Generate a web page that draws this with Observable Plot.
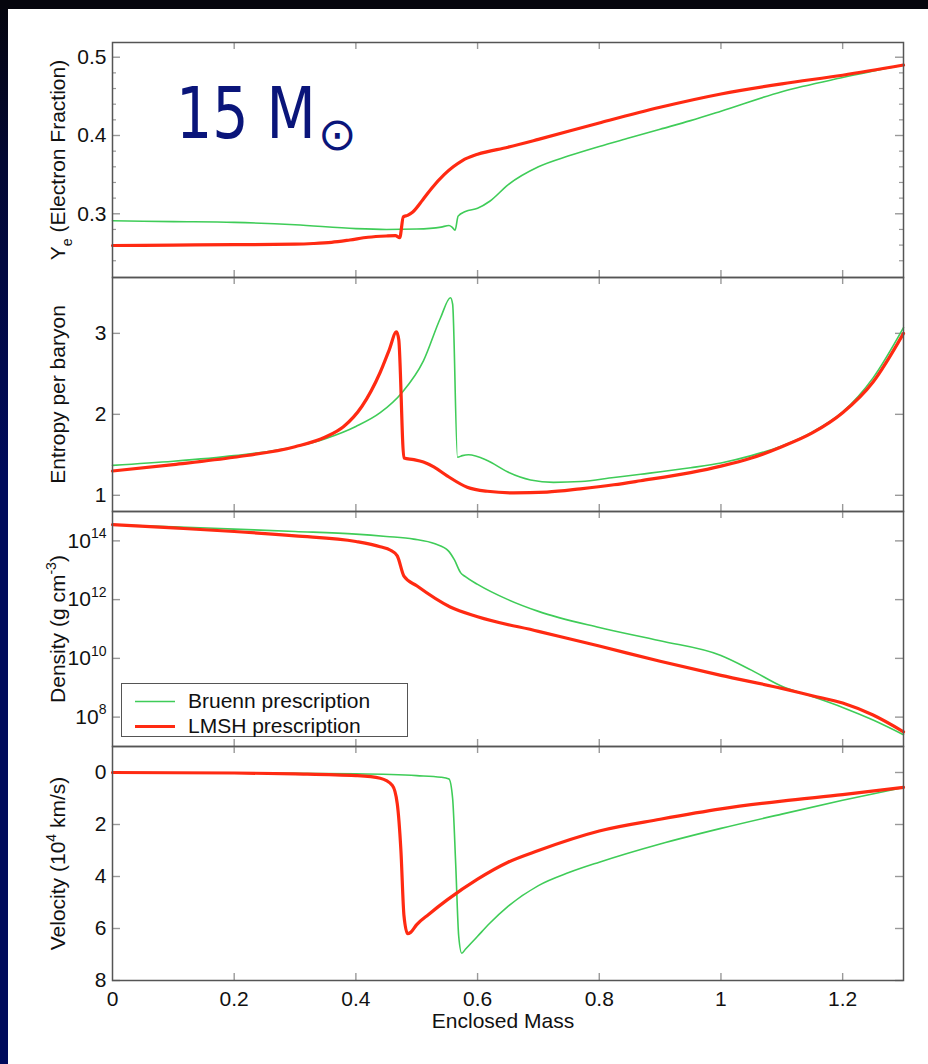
<!DOCTYPE html>
<html><head><meta charset="utf-8">
<script src="https://cdn.jsdelivr.net/npm/d3@7"></script>
<script src="https://cdn.jsdelivr.net/npm/@observablehq/plot@0.6"></script>
<style>
html,body{margin:0;padding:0;background:#fff;}
#page{position:relative;width:928px;height:1064px;overflow:hidden;background:#fff;font-family:"Liberation Sans",Arial,sans-serif;}
#topbar{position:absolute;left:0;top:0;width:928px;height:9px;background:#05050d;}
#leftbar{position:absolute;left:0;top:0;width:8px;height:1064px;background:linear-gradient(#05050d 0%,#030833 15%,#000b5c 45%,#000b5c 100%);}
.panel{position:absolute;left:0;}
#legend{position:absolute;left:121px;top:683px;width:287px;height:54px;border:1.5px solid #555;background:#fff;box-sizing:border-box;}
.lg-row{position:absolute;left:0;height:24px;width:100%;}
.lg-line{position:absolute;left:13px;top:11px;width:40px;}
.lg-text{position:absolute;left:66px;top:0;font-size:21px;line-height:24px;color:#111;white-space:nowrap;}
</style></head><body>
<div id="page"><div id="leftbar"></div><div id="topbar"></div></div>
<script>
// ---------- data ----------
const massTicks = [0, 0.2, 0.4, 0.6, 0.8, 1, 1.2];
const yeTicks = [0.3, 0.4, 0.5];
const yeMinorTicks = [0.24, 0.26, 0.28, 0.32, 0.34, 0.36, 0.38, 0.42, 0.44, 0.46, 0.48];
const entropyTicks = [1, 2, 3];
const densityTicks = [1e8, 1e10, 1e12, 1e14];
const velocityTicks = [0, 2, 4, 6, 8];

const seriesNames = ["Bruenn prescription", "LMSH prescription"];
const seriesColors = ["#3fcc58", "#ff2a12"];
const seriesWidths = [1.6, 3.2];

const titleText = "15 M";
const titleSymbol = "\u2299";
const xLabel = "Enclosed Mass";
const yLabels = ["Y_{e} (Electron Fraction)", "Entropy per baryon", "Density (g cm^{-3})", "Velocity (10^{4} km/s)"];

// Electron fraction
const yeBruennMass = [0, 0.1, 0.2, 0.3, 0.4, 0.45, 0.5, 0.54, 0.553, 0.558, 0.563, 0.568, 0.58, 0.6, 0.62, 0.65, 0.7, 0.75, 0.8, 0.85, 0.9, 0.95, 1.0, 1.1, 1.2, 1.3];
const yeBruenn     = [0.291, 0.290, 0.289, 0.286, 0.281, 0.280, 0.2805, 0.283, 0.285, 0.283, 0.279, 0.297, 0.303, 0.307, 0.316, 0.337, 0.36, 0.374, 0.386, 0.397, 0.408, 0.419, 0.431, 0.456, 0.474, 0.49];
const yeLmshMass = [0, 0.1, 0.2, 0.3, 0.33, 0.36, 0.39, 0.42, 0.45, 0.465, 0.472, 0.478, 0.485, 0.493, 0.51, 0.525, 0.545, 0.56, 0.575, 0.6, 0.65, 0.7, 0.8, 0.9, 1.0, 1.1, 1.2, 1.3];
const yeLmsh     = [0.2595, 0.260, 0.2605, 0.2612, 0.262, 0.2635, 0.2665, 0.270, 0.2716, 0.272, 0.2695, 0.296, 0.298, 0.302, 0.318, 0.333, 0.35, 0.36, 0.368, 0.376, 0.385, 0.395, 0.416, 0.436, 0.453, 0.466, 0.477, 0.49];

// Entropy per baryon
const entBruennMass = [0, 0.1, 0.2, 0.3, 0.35, 0.4, 0.44, 0.476, 0.511, 0.539, 0.5555, 0.559, 0.567, 0.575, 0.585, 0.616, 0.649, 0.687, 0.725, 0.77, 0.824, 0.868, 0.95, 1.0, 1.05, 1.1, 1.15, 1.2, 1.25, 1.3];
const entBruenn     = [1.37, 1.42, 1.49, 1.6, 1.7, 1.85, 2.02, 2.27, 2.66, 3.19, 3.44, 3.36, 1.47, 1.49, 1.5, 1.43, 1.29, 1.19, 1.16, 1.17, 1.22, 1.26, 1.34, 1.4, 1.49, 1.61, 1.78, 2.03, 2.45, 3.07];
const entLmshMass = [0, 0.1, 0.2, 0.3, 0.35, 0.38, 0.41, 0.44, 0.455, 0.4667, 0.4705, 0.479, 0.495, 0.511, 0.528, 0.55, 0.583, 0.616, 0.659, 0.714, 0.769, 0.824, 0.868, 0.95, 1.0, 1.05, 1.1, 1.15, 1.2, 1.25, 1.3];
const entLmsh     = [1.30, 1.38, 1.47, 1.6, 1.72, 1.85, 2.1, 2.52, 2.8, 3.02, 2.92, 1.46, 1.44, 1.41, 1.35, 1.24, 1.10, 1.05, 1.03, 1.04, 1.08, 1.13, 1.18, 1.28, 1.36, 1.46, 1.6, 1.77, 2.02, 2.4, 3.0];

// Density, log10 of g cm^-3
const denBruennMass = [0, 0.1, 0.2, 0.3, 0.4, 0.45, 0.495, 0.53, 0.552, 0.562, 0.572, 0.58, 0.6, 0.65, 0.7, 0.8, 0.9, 1.0, 1.05, 1.1, 1.15, 1.2, 1.25, 1.3];
const denBruennLog  = [14.55, 14.48, 14.4, 14.32, 14.23, 14.15, 14.06, 13.9, 13.66, 13.35, 12.92, 12.78, 12.52, 12.0, 11.6, 11.05, 10.6, 10.1, 9.6, 9.05, 8.7, 8.33, 7.9, 7.4];
const denLmshMass = [0, 0.1, 0.2, 0.3, 0.4, 0.44, 0.457, 0.468, 0.479, 0.5, 0.555, 0.6, 0.7, 0.8, 0.9, 1.0, 1.1, 1.15, 1.2, 1.25, 1.3];
const denLmshLog  = [14.55, 14.44, 14.32, 14.17, 13.98, 13.8, 13.68, 13.49, 12.8, 12.47, 11.75, 11.42, 10.92, 10.42, 9.9, 9.42, 8.98, 8.73, 8.48, 8.07, 7.5];

// Velocity, 10^4 km/s (infall, drawn downward)
const velBruennMass = [0, 0.2, 0.3, 0.4, 0.5, 0.54, 0.553, 0.559, 0.564, 0.569, 0.574, 0.58, 0.59, 0.6, 0.62, 0.65, 0.7, 0.75, 0.8, 0.9, 1.0, 1.1, 1.2, 1.3];
const velBruenn     = [0, 0.02, 0.03, 0.05, 0.12, 0.18, 0.25, 1.0, 3.5, 6.3, 6.95, 6.8, 6.55, 6.3, 5.8, 5.15, 4.35, 3.85, 3.45, 2.75, 2.15, 1.6, 1.07, 0.58];
const velLmshMass = [0, 0.2, 0.3, 0.4, 0.44, 0.46, 0.468, 0.474, 0.479, 0.485, 0.49, 0.5, 0.52, 0.55, 0.6, 0.65, 0.7, 0.8, 0.9, 1.0, 1.1, 1.2, 1.3];
const velLmsh     = [0, 0.02, 0.05, 0.12, 0.22, 0.5, 1.2, 3.0, 5.5, 6.2, 6.15, 5.85, 5.45, 4.9, 4.1, 3.45, 3.0, 2.25, 1.8, 1.4, 1.1, 0.85, 0.57];

// ---------- layout ----------
const W = 928, ML = 112, MR = 25, FW = W - ML - MR;
const FONT = "Liberation Sans, Arial, Helvetica, sans-serif";
const FS = 21;
const page = document.getElementById("page");
const pts = (ms, vs, f = v => v) => ms.map((m, i) => ({m, v: f(vs[i])}));
const fmtMass = d => String(+d.toFixed(1));

function rich(svg) {
  d3.select(svg).selectAll("text").each(function () {
    const t = this.textContent;
    if (!/[\^_]\{/.test(t)) return;
    const parts = t.split(/(\^\{[^}]*\}|_\{[^}]*\})/).filter(s => s.length);
    const el = d3.select(this);
    el.text(null);
    let shift = 0;
    for (const p of parts) {
      const m = p.match(/^([\^_])\{([^}]*)\}$/);
      const ts = el.append("tspan");
      if (m) {
        const target = m[1] === "^" ? -0.45 * FS : 0.3 * FS;
        ts.attr("dy", target - shift).attr("font-size", Math.round(FS * 0.68)).text(m[2]);
        shift = target;
      } else {
        if (shift) ts.attr("dy", -shift);
        ts.text(p);
        shift = 0;
      }
    }
  });
}

function panel({top, h, mb = 10, y, ticks, minor = [], fmt, label, lines, xAxis = false}) {
  const mt = 10;
  const inner = massTicks.filter(d => d > 0 && d < 1.3);
  const marks = [
    Plot.ruleX(inner, {x: d => d, insetBottom: h - 7, stroke: "#999", strokeWidth: 1.4}),
    Plot.ruleX(inner, {x: d => d, insetTop: h - 7, stroke: "#999", strokeWidth: 1.4}),
    Plot.ruleY(ticks, {y: d => d, insetRight: FW - 8, stroke: "#999", strokeWidth: 1.4}),
    Plot.ruleY(ticks, {y: d => d, insetLeft: FW - 8, stroke: "#999", strokeWidth: 1.4}),
    Plot.ruleY(minor, {y: d => d, insetRight: FW - 4, stroke: "#999", strokeWidth: 1.2}),
    Plot.ruleY(minor, {y: d => d, insetLeft: FW - 4, stroke: "#999", strokeWidth: 1.2}),
    Plot.axisY({ticks, tickSize: 0, tickPadding: 6, tickFormat: fmt, label: null, fontSize: FS}),
    ...lines.map((data, i) => Plot.line(data, {x: "m", y: "v", stroke: seriesColors[i], strokeWidth: seriesWidths[i], curve: "monotone-x", strokeLinejoin: "round", strokeLinecap: "round"})),
    Plot.frame({stroke: "#555", strokeWidth: 1.5}),
    Plot.text([label], {text: d => d, frameAnchor: "left", dx: -54, rotate: -90, textAnchor: "middle", lineAnchor: "middle", fontSize: FS, fill: "#111"})
  ];
  if (xAxis) {
    marks.push(Plot.axisX({ticks: massTicks, tickSize: 0, tickPadding: 11, tickFormat: fmtMass, label: null, fontSize: FS}));
    marks.push(Plot.text([xLabel], {text: d => d, frameAnchor: "bottom", dy: 41, dx: -5, textAnchor: "middle", lineAnchor: "middle", fontSize: FS, fill: "#111"}));
  }
  const svg = Plot.plot({
    width: W, height: h + mt + mb,
    marginLeft: ML, marginRight: MR, marginTop: mt, marginBottom: mb,
    x: {domain: [0, 1.3], ...(xAxis ? {} : {axis: null})},
    y,
    style: {background: "transparent", overflow: "visible", fontFamily: FONT, fontSize: FS + "px", color: "#111"},
    marks
  });
  rich(svg);
  svg.classList.add("panel");
  svg.style.top = (top - mt) + "px";
  svg.style.position = "absolute";
  page.appendChild(svg);
}

panel({top: 42, h: 235, y: {domain: [0.2186, 0.5188]}, ticks: yeTicks, minor: yeMinorTicks, fmt: d => d.toFixed(1), label: yLabels[0],
  lines: [pts(yeBruennMass, yeBruenn), pts(yeLmshMass, yeLmsh)]});
panel({top: 277, h: 234, y: {domain: [0.80, 3.69]}, ticks: entropyTicks, fmt: d => String(d), label: yLabels[1],
  lines: [pts(entBruennMass, entBruenn), pts(entLmshMass, entLmsh)]});
panel({top: 511, h: 235, y: {type: "log", domain: [1e7, 1e15]}, ticks: densityTicks, fmt: d => "10^{" + Math.round(Math.log10(d)) + "}", label: yLabels[2],
  lines: [pts(denBruennMass, denBruennLog, v => 10 ** v), pts(denLmshMass, denLmshLog, v => 10 ** v)]});
panel({top: 746, h: 234, mb: 70, y: {domain: [8, -1]}, ticks: velocityTicks, fmt: d => String(d), label: yLabels[3], xAxis: true,
  lines: [pts(velBruennMass, velBruenn), pts(velLmshMass, velLmsh)]});

// ---------- legend ----------
const legend = document.createElement("div");
legend.id = "legend";
seriesNames.forEach((name, i) => {
  const row = document.createElement("div");
  row.className = "lg-row";
  row.style.top = (5 + i * 25) + "px";
  row.innerHTML = `<svg class="lg-line" width="40" height="4" style="overflow:visible"><line x1="0" x2="40" y1="1.5" y2="1.5" stroke="${seriesColors[i]}" stroke-width="${seriesWidths[i]}"/></svg><div class="lg-text">${name}</div>`;
  legend.appendChild(row);
});
page.appendChild(legend);

// ---------- title ----------
const tns = "http://www.w3.org/2000/svg";
const tsvg = document.createElementNS(tns, "svg");
tsvg.setAttribute("width", 928); tsvg.setAttribute("height", 200);
tsvg.style.cssText = "position:absolute;left:0;top:0;overflow:visible;pointer-events:none";
const t1 = document.createElementNS(tns, "text");
t1.setAttribute("transform", "translate(176,138) scale(1,1.25)");
t1.setAttribute("font-family", "DejaVu Sans, sans-serif");
t1.setAttribute("font-size", 57);
t1.setAttribute("fill", "#0a157a");
t1.textContent = titleText;
const t2 = document.createElementNS(tns, "text");
t2.setAttribute("x", 318); t2.setAttribute("y", 150);
t2.setAttribute("font-family", "DejaVu Sans, sans-serif");
t2.setAttribute("font-size", 46);
t2.setAttribute("fill", "#0a157a");
t2.textContent = titleSymbol;
tsvg.appendChild(t1); tsvg.appendChild(t2);
page.appendChild(tsvg);
</script>
</body></html>
